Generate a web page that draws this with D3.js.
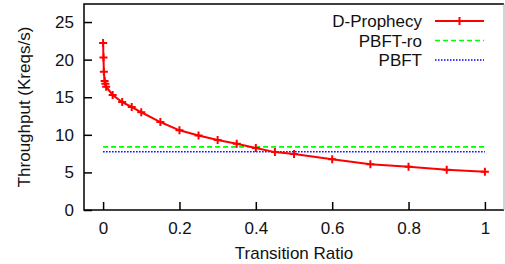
<!DOCTYPE html>
<html><head><meta charset="utf-8">
<script src="https://cdn.jsdelivr.net/npm/d3@7"></script>
<style>html,body{margin:0;padding:0;background:#fff;}svg{display:block;}</style>
</head><body>
<svg id="c" width="505" height="264"></svg>
<script>
const ratios = [0, 0.001, 0.002, 0.004, 0.006, 0.008, 0.025, 0.05, 0.075, 0.1, 0.15, 0.2, 0.25, 0.3, 0.35, 0.4, 0.45, 0.5, 0.6, 0.7, 0.8, 0.9, 1.0];
const dProphecy = [22.2, 20.3, 18.4, 17.15, 16.8, 16.4, 15.3, 14.35, 13.7, 13.0, 11.7, 10.6, 9.9, 9.3, 8.8, 8.25, 7.7, 7.45, 6.75, 6.1, 5.75, 5.35, 5.1];
const pbftRo = 8.4;
const pbft = 7.75;
const xTicks = [0, 0.2, 0.4, 0.6, 0.8, 1];
const yTicks = [0, 5, 10, 15, 20, 25];
const seriesNames = ["D-Prophecy", "PBFT-ro", "PBFT"];

const svg = d3.select("#c");
const L = 84, R = 504, T = 4, B = 210;
const x = d3.scaleLinear().domain([-0.05, 1.05]).range([L, R]);
const y = d3.scaleLinear().domain([0, 27.4]).range([B, T]);
const font = "'Liberation Sans', Arial, sans-serif";
const fs = 17;

// axes
const xAxis = d3.axisBottom(x).tickValues(xTicks).tickSize(-8).tickPadding(12).tickFormat(d3.format("~g"));
const yAxis = d3.axisLeft(y).tickValues(yTicks).tickSize(-8).tickPadding(10).tickFormat(d3.format("~g"));
const gx = svg.append("g").attr("transform", `translate(0,${B})`).call(xAxis);
const gy = svg.append("g").attr("transform", `translate(${L},0)`).call(yAxis);
[gx, gy].forEach(g => {
  g.select(".domain").remove();
  g.selectAll("line").attr("stroke", "#000").attr("stroke-width", 1.5);
  g.selectAll("text").attr("font-family", font).attr("font-size", fs).attr("fill", "#111");
});

// frame
svg.append("path").attr("d", `M${R},${T}H${L}V${B}H${R}`).attr("fill", "none").attr("stroke", "#000").attr("stroke-width", 1.5);
svg.append("line").attr("x1", R).attr("x2", R).attr("y1", T).attr("y2", B).attr("stroke", "#aaa").attr("stroke-width", 1);

// horizontal series
const flat = (v) => [[0, v], [1, v]];
const line = d3.line().x(d => x(d[0])).y(d => y(d[1]));
svg.append("path").attr("d", line(flat(pbftRo))).attr("fill", "none").attr("stroke", "#00ff00").attr("stroke-width", 1.6).attr("stroke-dasharray", "5,3");
svg.append("path").attr("d", line(flat(pbft))).attr("fill", "none").attr("stroke", "#0000ff").attr("stroke-width", 1.6).attr("stroke-dasharray", "1.5,1.5");

// D-Prophecy
const dp = ratios.map((r, i) => [r, dProphecy[i]]);
svg.append("path").attr("d", d3.line().curve(d3.curveLinear).x(d => x(d[0])).y(d => y(d[1]))(dp))
  .attr("fill", "none").attr("stroke", "#ff0000").attr("stroke-width", 2);
const plus = (cx, cy, s) => `M${cx - s},${cy}H${cx + s}M${cx},${cy - s}V${cy + s}`;
svg.append("g").selectAll("path").data(dp).join("path")
  .attr("d", d => plus(x(d[0]), y(d[1]), 4)).attr("stroke", "#ff0000").attr("stroke-width", 2);

// legend
const lg = svg.append("g");
const legY = [21, 40.5, 60];
const styles = [
  {c: "#ff0000", w: 2, dash: null},
  {c: "#00ff00", w: 1.6, dash: "5,3"},
  {c: "#0000ff", w: 1.6, dash: "1.5,1.5"}
];
seriesNames.forEach((n, i) => {
  lg.append("text").attr("x", 422).attr("y", legY[i] + 6).attr("text-anchor", "end")
    .attr("font-family", font).attr("font-size", fs).attr("fill", "#111").text(n);
  const l = lg.append("line").attr("x1", 435).attr("x2", 484).attr("y1", legY[i]).attr("y2", legY[i])
    .attr("stroke", styles[i].c).attr("stroke-width", styles[i].w);
  if (styles[i].dash) l.attr("stroke-dasharray", styles[i].dash);
});
lg.append("path").attr("d", plus(459.5, legY[0], 4)).attr("stroke", "#ff0000").attr("stroke-width", 2);

// axis titles
svg.append("text").attr("x", x(0.5)).attr("y", 259).attr("text-anchor", "middle")
  .attr("font-family", font).attr("font-size", fs).attr("fill", "#111").text("Transition Ratio");
svg.append("text").attr("transform", `translate(30,${(T + B) / 2}) rotate(-90)`).attr("text-anchor", "middle")
  .attr("font-family", font).attr("font-size", fs).attr("fill", "#111").text("Throughput (Kreqs/s)");
</script>
</body></html>
